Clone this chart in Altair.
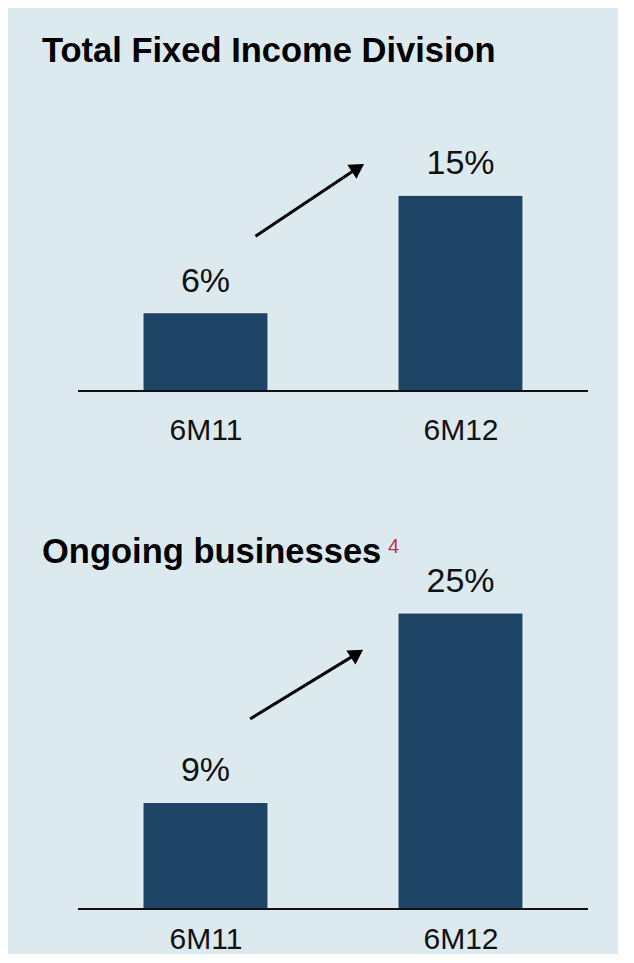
import json
import altair as alt
import pandas as pd

# ---- data ----
categories = ["6M11", "6M12"]
fixed_income_values = [6, 15]          # Total Fixed Income Division, %
ongoing_values = [9, 25]               # Ongoing businesses, %
panel_titles = ["Total Fixed Income Division", "Ongoing businesses"]
footnote_mark = "4"

# arrows (start / end in data units: category index, %)
arrow_top_x = [0.196, 0.598]
arrow_top_y = [11.85, 17.10]
arrow_bottom_x = [0.175, 0.594]
arrow_bottom_y = [16.05, 21.57]

# ---- style ----
BG = "#dceaf0"
BAR = "#1e4466"
FONT = "Liberation Sans"
W = 610
X_DOMAIN = [-0.7745, -0.7745 + W / 255]
idx = list(range(len(categories)))
label_expr = json.dumps(categories) + "[datum.value]"


def panel(values, title, ax, ay, height, ymax, title_y, label_pad, footnote=None):
    bars_df = pd.DataFrame({"i": idx, "v": values,
                            "lab": [f"{v}%" for v in values]})
    x = alt.X("i:Q", scale=alt.Scale(domain=X_DOMAIN, nice=False, zero=False,
                                     padding=0),
              axis=alt.Axis(values=idx, labelExpr=label_expr, domain=False,
                            ticks=False, grid=False, title=None,
                            labelFontSize=30, labelFont=FONT, labelColor="#111",
                            labelPadding=label_pad))
    y = alt.Y("v:Q", scale=alt.Scale(domain=[0, ymax], nice=False), axis=None)
    base = alt.Chart(bars_df)
    bars = base.mark_bar(size=125, color=BAR, stroke="#eef5f8",
                         strokeWidth=1).encode(x=x, y=y)
    labels = base.mark_text(baseline="alphabetic", dy=-21, fontSize=34,
                            font=FONT, color="#111").encode(x="i:Q", y="v:Q",
                                                             text="lab:N")
    base_df = pd.DataFrame({"x": [-0.5], "x2": [len(categories) - 0.5], "y": [0]})
    baseline = alt.Chart(base_df).mark_rule(color="#111", strokeWidth=2).encode(
        x="x:Q", x2="x2:Q", y="y:Q")
    arr_df = pd.DataFrame({"x": [ax[0]], "x2": [ax[1]], "y": [ay[0]], "y2": [ay[1]]})
    arrow_line = alt.Chart(arr_df).mark_rule(color="#000", strokeWidth=3).encode(
        x="x:Q", x2="x2:Q", y="y:Q", y2="y2:Q")
    head_df = pd.DataFrame({"x": [ax[1]], "y": [ay[1]]})
    arrow_head = alt.Chart(head_df).mark_point(
        shape="triangle-up", filled=True, color="#000", size=280, angle=57,
        opacity=1).encode(x="x:Q", y="y:Q")
    t_df = pd.DataFrame({"t": [title]})
    title_mark = alt.Chart(t_df).mark_text(
        align="left", baseline="alphabetic", fontSize=34.5, fontWeight="bold",
        font=FONT, color="#000").encode(x=alt.value(34), y=alt.value(title_y),
                                        text="t:N")
    layers = [bars, labels, baseline, arrow_line, arrow_head, title_mark]
    if footnote:
        f_df = pd.DataFrame({"t": [footnote]})
        layers.append(alt.Chart(f_df).mark_text(
            align="left", baseline="alphabetic", fontSize=20, font=FONT,
            color="#b8324f").encode(x=alt.value(380), y=alt.value(title_y - 10),
                                    text="t:N"))
    return alt.layer(*layers).properties(width=W, height=height)


top = panel(fixed_income_values, panel_titles[0], arrow_top_x, arrow_top_y,
            383, 383 / 13.05, 54, 24)
bottom = panel(ongoing_values, panel_titles[1], arrow_bottom_x, arrow_bottom_y,
               409, 409 / 11.84, 63, 15, footnote=footnote_mark)

chart = alt.vconcat(top, bottom, spacing=55).properties(
    padding=0, background=BG
).configure_view(stroke=None)

chart.save("out.html", embed_options={"renderer": "svg", "actions": False})
